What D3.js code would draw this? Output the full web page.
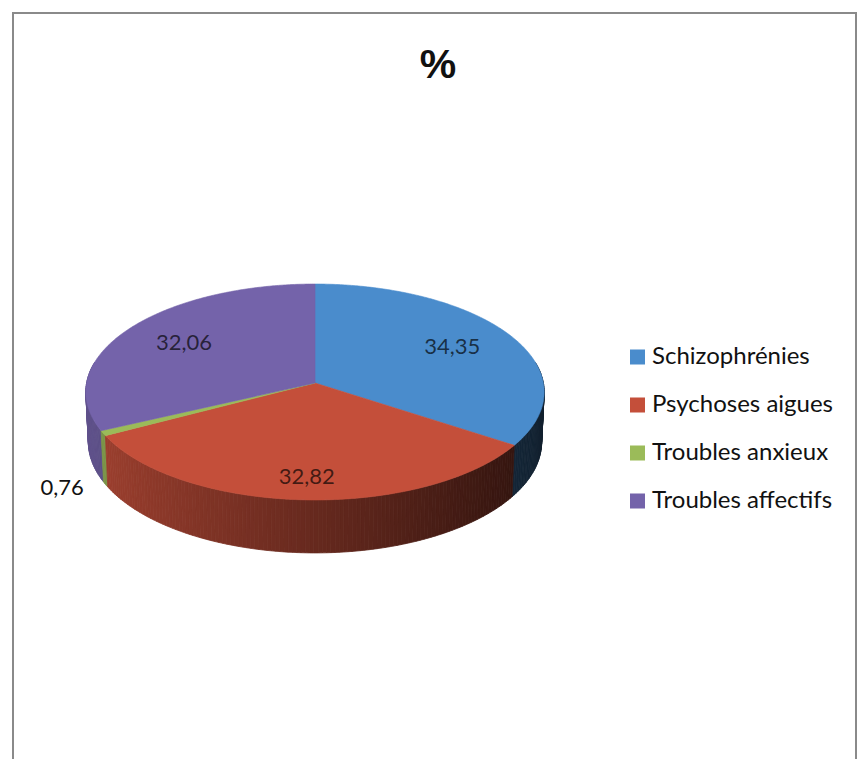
<!DOCTYPE html>
<html>
<head>
<meta charset="utf-8">
<script src="https://cdn.jsdelivr.net/npm/d3@7/dist/d3.min.js"></script>
<style>
  html, body { margin: 0; padding: 0; background: #fff; }
  svg { display: block; }
</style>
</head>
<body>
<svg id="chart" width="860" height="759"></svg>
<script>
// ---- data ----
const title = "%";
const categories = ["Schizophrénies", "Psychoses aigues", "Troubles anxieux", "Troubles affectifs"];
const values = [34.35, 32.82, 0.76, 32.06];
const valueLabels = ["34,35", "32,82", "0,76", "32,06"];
const topColors = ["#4a8ccc", "#c44f3a", "#9bbb59", "#7463aa"];

// ---- layout ----
const svg = d3.select("#chart");

// frame
svg.append("rect")
  .attr("x", 13).attr("y", 13)
  .attr("width", 843).attr("height", 780)
  .attr("fill", "none")
  .attr("stroke", "#8a8a8a")
  .attr("stroke-width", 2);

// title
svg.append("text")
  .attr("x", 438).attr("y", 78)
  .attr("text-anchor", "middle")
  .attr("font-family", "Liberation Sans, Arial, sans-serif")
  .attr("font-weight", "bold")
  .attr("font-size", 41)
  .attr("fill", "#111")
  .text(title);

// ---- 3D perspective projection of the pie ----
const cx = 315, cy = 383;
const phi = 28 * Math.PI / 180;
const sP = Math.sin(phi), cP = Math.cos(phi);
const D = 10.6, f = 2421, thick = 0.25;

function proj(theta, r, y) {
  const x = r * Math.sin(theta), z = r * Math.cos(theta);
  const v = y * cP + z * sP;
  const w = -y * sP + z * cP + D;
  return [cx + f * x / w, cy - f * v / w];
}

const pie = d3.pie().sort(null).value(d => d)
  .startAngle(0).endAngle(2 * Math.PI);
const arcs = pie(values);

const line = d3.line();
const gWalls = svg.append("g");
const gTops = svg.append("g");

function shade(col, theta) {
  const k = 0.52 + 0.3 * (-Math.sin(theta));
  const c = d3.rgb(col);
  return d3.rgb(c.r * k, c.g * k, c.b * k).toString();
}

// walls (outer side), back to front
const wallSegs = [];
arcs.forEach((a, i) => {
  const n = Math.max(1, Math.ceil((a.endAngle - a.startAngle) / (Math.PI / 180)));
  for (let j = 0; j < n; j++) {
    const t0 = a.startAngle + (a.endAngle - a.startAngle) * j / n;
    const t1 = a.startAngle + (a.endAngle - a.startAngle) * (j + 1) / n;
    const tm = (t0 + t1) / 2;
    if (Math.cos(tm) > 0.2) continue;
    wallSegs.push({ i, t0, t1, tm });
  }
});
wallSegs.sort((a, b) => Math.cos(b.tm) - Math.cos(a.tm));
gWalls.selectAll("path").data(wallSegs).join("path")
  .attr("d", d => line([proj(d.t0, 1, 0), proj(d.t1, 1, 0), proj(d.t1, 1, -thick), proj(d.t0, 1, -thick)]) + "Z")
  .attr("fill", d => shade(topColors[d.i], d.tm))
  .attr("stroke", d => shade(topColors[d.i], d.tm))
  .attr("stroke-width", 0.8);

// top faces
gTops.selectAll("path").data(arcs).join("path")
  .attr("d", a => {
    const pts = [proj(0, 0, 0)];
    const n = Math.max(2, Math.ceil((a.endAngle - a.startAngle) / (Math.PI / 360)));
    for (let j = 0; j <= n; j++) {
      pts.push(proj(a.startAngle + (a.endAngle - a.startAngle) * j / n, 1, 0));
    }
    return line(pts) + "Z";
  })
  .attr("fill", (a, i) => topColors[i])
  .attr("stroke", (a, i) => topColors[i])
  .attr("stroke-width", 0.6);

// data labels
const gLabels = svg.append("g")
  .attr("font-family", "Lato, Calibri, sans-serif")
  .attr("font-size", 22);
arcs.forEach((a, i) => {
  const mid = (a.startAngle + a.endAngle) / 2;
  const small = (a.endAngle - a.startAngle) < 0.2;
  if (small) {
    const p = proj(mid, 1.1, -thick);
    gLabels.append("text")
      .attr("x", p[0]).attr("y", p[1])
      .attr("text-anchor", "end")
      .attr("dominant-baseline", "middle")
      .attr("fill", "#111")
      .text(valueLabels[i]);
  } else {
    // labels of front slices sit a little lower (centre of visible face + side)
    const p = proj(mid, 0.7, -0.3 * thick * Math.max(0, -Math.cos(mid)));
    gLabels.append("text")
      .attr("x", p[0]).attr("y", p[1])
      .attr("text-anchor", "middle")
      .attr("dominant-baseline", "middle")
      .attr("fill", "#000")
      .attr("fill-opacity", 0.68)
      .text(valueLabels[i]);
  }
});

// legend
const ly = d3.scalePoint().domain(categories).range([357, 501]);
const gLeg = svg.append("g");
const items = gLeg.selectAll("g").data(categories).join("g")
  .attr("transform", d => `translate(630,${ly(d)})`);
items.append("rect")
  .attr("x", 0).attr("y", -7.5).attr("width", 15).attr("height", 15)
  .attr("fill", (d, i) => topColors[i]);
items.append("text")
  .attr("x", 22).attr("y", 1)
  .attr("dominant-baseline", "middle")
  .attr("font-family", "Lato, Calibri, sans-serif")
  .attr("font-size", 24)
  .attr("fill", "#111")
  .text(d => d);
</script>
</body>
</html>
